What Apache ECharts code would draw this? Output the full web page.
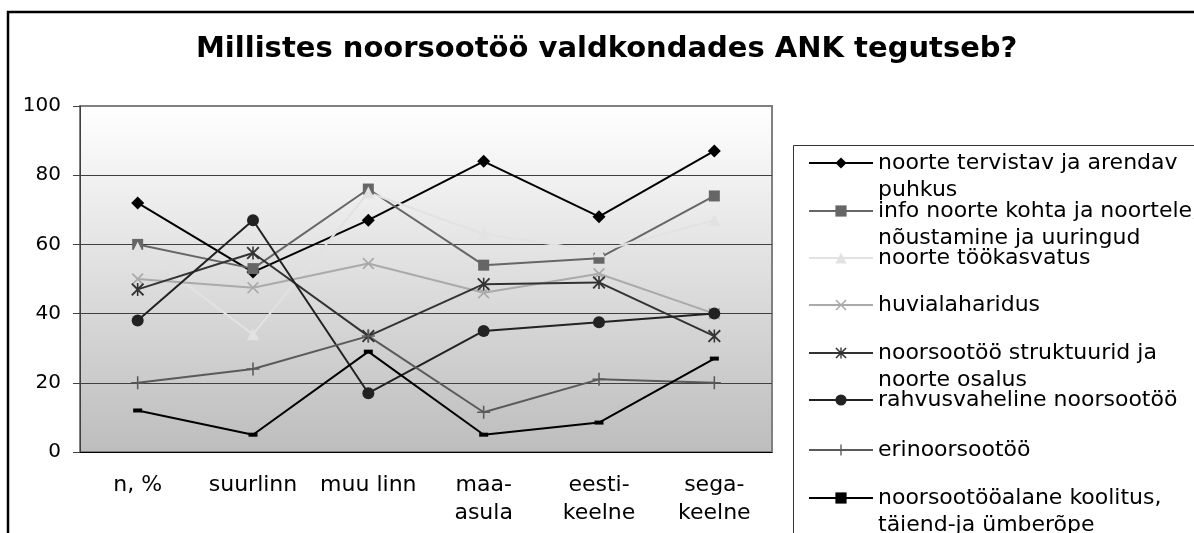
<!DOCTYPE html>
<html>
<head>
<meta charset="utf-8">
<script src="https://cdn.jsdelivr.net/npm/echarts@6/dist/echarts.min.js"></script>
<style>
  html, body { margin: 0; padding: 0; background: #fff; }
  #chart { width: 1194px; height: 533px; }
</style>
</head>
<body>
<div id="chart"></div>
<script>
var categories = ['n, %', 'suurlinn', 'muu linn', 'maa-\nasula', 'eesti-\nkeelne', 'sega-\nkeelne'];
var yTicks = [0, 20, 40, 60, 80, 100];

var names = [
  'noorte tervistav ja arendav\npuhkus',
  'info noorte kohta ja noortele,\nnõustamine ja uuringud',
  'noorte töökasvatus',
  'huvialaharidus',
  'noorsootöö struktuurid ja\nnoorte osalus',
  'rahvusvaheline noorsootöö',
  'erinoorsootöö',
  'noorsootööalane koolitus,\ntäiend-ja ümberõpe'
];

var tervistav = [72, 52, 67, 84, 68, 87];
var info = [60, 53, 76, 54, 56, 74];
var tookasvatus = [59, 34, 75, 63, 58, 67];
var huviala = [50, 47.5, 54.5, 46, 51.5, 40];
var struktuurid = [47, 57.5, 33.5, 48.5, 49, 33.5];
var rahvusvaheline = [38, 67, 17, 35, 37.5, 40];
var erinoorsootoo = [20, 24, 33.5, 11.5, 21, 20];
var koolitus = [12, 5, 29, 5, 8.5, 27];

var seriesData = [tervistav, info, tookasvatus, huviala, struktuurid, rahvusvaheline, erinoorsootoo, koolitus];

// marker shapes, excel style
var xPath = 'path://M0,1L1,0L5,4L9,0L10,1L6,5L10,9L9,10L5,6L1,10L0,9L4,5Z';
var starPath = 'path://M0,1L1,0L5,4L9,0L10,1L6,5L10,9L9,10L5,6L1,10L0,9L4,5ZM4.4,0L5.6,0L5.6,10L4.4,10Z';
var plusPath = 'path://M4.4,0L5.6,0L5.6,10L4.4,10ZM0,4.4L10,4.4L10,5.6L0,5.6Z';

var styles = [
  { color: '#000000', symbol: 'diamond', size: 13 },
  { color: '#666666', symbol: 'rect', size: 11 },
  { color: '#e2e2e2', symbol: 'triangle', size: 12 },
  { color: '#aaaaaa', symbol: xPath, size: 12 },
  { color: '#333333', symbol: starPath, size: 13 },
  { color: '#222222', symbol: 'circle', size: 12 },
  { color: '#5a5a5a', symbol: plusPath, size: 13 },
  { color: '#000000', symbol: 'rect', size: [9, 4] }
];

// legend icon centres, one legend per row
var legendRows = [163, 211, 258, 305, 353, 400, 450, 498];

var font = 'DejaVu Sans';

var series = [];
var legends = [];
for (var i = 0; i < names.length; i++) {
  series.push({
    name: names[i],
    type: 'line',
    data: seriesData[i],
    symbol: styles[i].symbol,
    symbolSize: styles[i].size,
    showAllSymbol: true,
    animation: false,
    lineStyle: { color: styles[i].color, width: 2 },
    itemStyle: { color: styles[i].color }
  });
  var twoLines = names[i].indexOf('\n') >= 0;
  legends.push({
    orient: 'vertical',
    left: 808,
    top: legendRows[i] - (twoLines ? 40.5 : 13.5),
    padding: 0,
    itemWidth: 64,
    itemHeight: 14,
    selectedMode: false,
    data: [names[i]],
    // empty first line so the first text row sits on the icon, like excel
    formatter: function (n) {
      return n.indexOf('\n') >= 0 ? '\n' + n : n;
    },
    textStyle: {
      fontFamily: font,
      fontSize: 22,
      lineHeight: 27,
      color: '#000'
    }
  });
}

var chart = echarts.init(document.getElementById('chart'));
var option = {
  backgroundColor: '#fff',
  animation: false,
  title: {
    text: 'Millistes noorsootöö valdkondades ANK tegutseb?',
    left: 196,
    top: 35,
    padding: 0,
    textStyle: { fontFamily: font, fontSize: 29, fontWeight: 'bold', color: '#000' }
  },
  legend: legends,
  grid: {
    left: 80,
    right: 422,
    top: 106,
    bottom: 81,
    show: true,
    borderColor: '#808080',
    borderWidth: 2,
    backgroundColor: {
      type: 'linear', x: 0, y: 0, x2: 0, y2: 1,
      colorStops: [{ offset: 0, color: '#ffffff' }, { offset: 1, color: '#bdbdbd' }]
    }
  },
  xAxis: {
    type: 'category',
    data: categories,
    boundaryGap: true,
    axisLine: { lineStyle: { color: '#000', width: 1 } },
    axisTick: { length: 6, lineStyle: { color: '#000' } },
    axisLabel: { margin: 19, fontFamily: font, fontSize: 22, lineHeight: 28, color: '#000', interval: 0 }
  },
  yAxis: {
    type: 'value',
    min: yTicks[0],
    max: yTicks[yTicks.length - 1],
    interval: 20,
    axisLine: { show: true, lineStyle: { color: '#404040', width: 1 } },
    axisTick: { show: true, length: 7, lineStyle: { color: '#404040' } },
    axisLabel: { margin: 19, fontFamily: font, fontSize: 20, color: '#000' },
    splitLine: {
      lineStyle: { color: ['#404040', '#404040', '#404040', '#404040', '#404040', '#808080'], width: 1 }
    }
  },
  graphic: [
    {
      type: 'rect',
      shape: { x: 8, y: 12, width: 1300, height: 700 },
      style: { fill: 'none', stroke: '#000', lineWidth: 2.5 },
      z: 100
    },
    {
      type: 'rect',
      shape: { x: 793.5, y: 145.5, width: 600, height: 500 },
      style: { fill: 'none', stroke: '#333', lineWidth: 1 },
      z: 100
    }
  ],
  series: series
};
chart.setOption(option);
</script>
</body>
</html>
